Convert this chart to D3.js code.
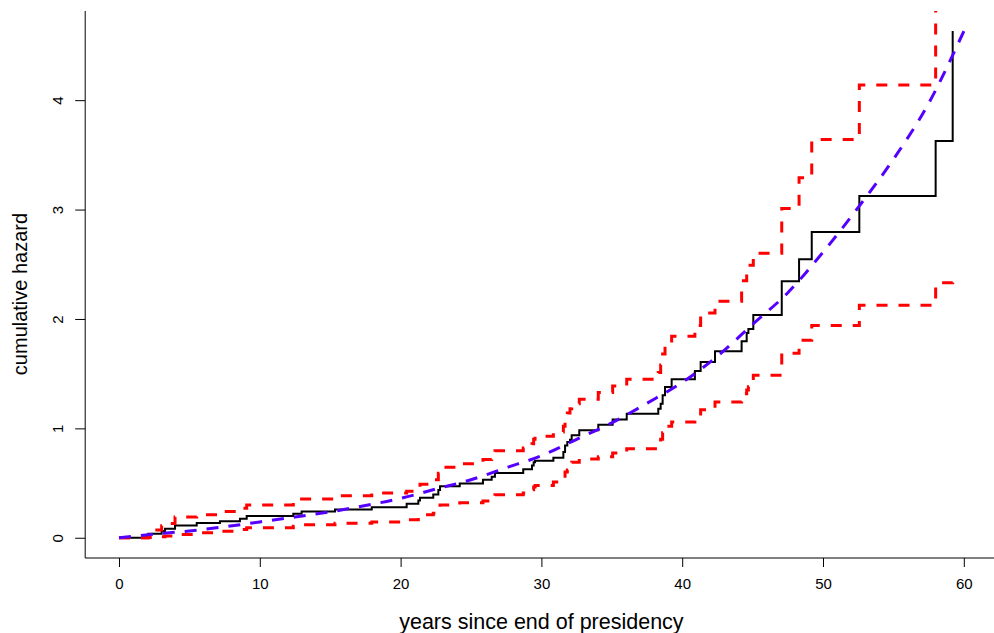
<!DOCTYPE html>
<html>
<head>
<meta charset="utf-8">
<script src="https://cdn.jsdelivr.net/npm/d3@7"></script>
<style>
  body { margin: 0; background: #fff; }
  svg { display: block; }
  text { font-family: "Liberation Sans", Arial, sans-serif; fill: #000; }
</style>
</head>
<body>
<div id="chart"></div>
<script>
// years since end of presidency at which the estimate steps
const times = [0, 2.08, 3.03, 3.27, 3.98, 5.52, 7.17, 8.59, 9.07, 12.38,
  12.97, 15.34, 17.95, 20.43, 21.26, 21.38, 22.32, 22.68, 22.8, 24.2,
  25.85, 26.47, 26.7, 28.71, 29.33, 29.45, 29.55, 30.85, 31.56, 31.68,
  31.84, 32.03, 32.15, 32.69, 34.04, 35.06, 36.06, 38.3, 38.47, 38.61,
  38.78, 39.25, 40.9, 41.31, 42.33, 44.22, 44.58, 44.7, 45.05, 47.07,
  48.3, 49.2, 52.58, 58.0, 59.21]

// Nelson-Aalen cumulative hazard
const cumHaz = [0, 0.037, 0.061, 0.082, 0.113, 0.134, 0.152, 0.174, 0.198, 0.22,
  0.24, 0.259, 0.28, 0.311, 0.34, 0.366, 0.395, 0.437, 0.47, 0.497,
  0.53, 0.558, 0.593, 0.627, 0.66, 0.69, 0.705, 0.732, 0.783, 0.844,
  0.875, 0.896, 0.936, 0.982, 1.034, 1.08, 1.134, 1.18, 1.226, 1.302,
  1.378, 1.448, 1.524, 1.607, 1.704, 1.796, 1.872, 1.909, 2.036, 2.345,
  2.546, 2.796, 3.125, 3.626, 4.632]

// confidence band
const upper = [0, 0.07, 0.11, 0.13, 0.19, 0.21, 0.24, 0.27, 0.30, 0.33,
  0.355, 0.385, 0.41, 0.425, 0.46, 0.49, 0.53, 0.59, 0.645, 0.677,
  0.715, 0.75, 0.795, 0.82, 0.86, 0.9, 0.927, 0.966, 1.02, 1.1,
  1.14, 1.18, 1.226, 1.265, 1.327, 1.387, 1.448, 1.51, 1.58, 1.68,
  1.77, 1.842, 1.94, 2.055, 2.162, 2.35, 2.44, 2.49, 2.6, 3.01,
  3.29, 3.641, 4.138, 5.6, 7.5]

const lower = [0, 0.002, 0.01, 0.015, 0.03, 0.045, 0.06, 0.075, 0.092, 0.105,
  0.118, 0.132, 0.145, 0.165, 0.19, 0.21, 0.225, 0.26, 0.30, 0.32,
  0.335, 0.36, 0.393, 0.41, 0.44, 0.465, 0.478, 0.51, 0.54, 0.6,
  0.62, 0.66, 0.69, 0.72, 0.74, 0.774, 0.814, 0.85, 0.9, 0.96,
  1.02, 1.058, 1.103, 1.17, 1.24, 1.317, 1.35, 1.38, 1.485, 1.686,
  1.805, 1.94, 2.125, 2.33, 2.42]

// fitted parametric cumulative hazard
const fitTimes = [0, 2.5, 5, 7.5, 10, 12.5, 15, 17.5, 20, 22.5, 25, 27.5, 30,
  32.5, 35, 37.5, 40, 42.5, 45, 47.5, 50, 52.5, 55, 57.5, 60]
const fitHaz = [0, 0.033, 0.062, 0.1, 0.145, 0.19, 0.237, 0.295, 0.36, 0.445,
  0.53, 0.64, 0.75, 0.9, 1.05, 1.23, 1.42, 1.66, 1.95, 2.24,
  2.61, 3.02, 3.46, 3.97, 4.63]

const xTicks = [0, 10, 20, 30, 40, 50, 60]
const yTicks = [0, 1, 2, 3, 4]

const width = 994
const height = 633

const x = d3.scaleLinear().domain([-2.4, 62.4]).range([85.2, 997.6])
const y = d3.scaleLinear().domain([-0.185, 4.815]).range([558, 11])

const svg = d3
  .select('#chart')
  .append('svg')
  .attr('width', width)
  .attr('height', height)

svg
  .append('clipPath')
  .attr('id', 'plot-area')
  .append('rect')
  .attr('x', x(-2.4))
  .attr('y', y(4.815))
  .attr('width', x(62.4) - x(-2.4))
  .attr('height', y(-0.185) - y(4.815))

const stepLine = d3
  .line()
  .x(d => x(d[0]))
  .y(d => y(d[1]))
  .curve(d3.curveStepAfter)

const smoothLine = d3
  .line()
  .x(d => x(d[0]))
  .y(d => y(d[1]))
  .curve(d3.curveMonotoneX)

const plot = svg.append('g').attr('clip-path', 'url(#plot-area)')

plot
  .append('path')
  .datum(d3.zip(times, cumHaz))
  .attr('d', stepLine)
  .attr('fill', 'none')
  .attr('stroke', '#000')
  .attr('stroke-width', 2)

plot
  .selectAll('.band')
  .data([upper, lower])
  .enter()
  .append('path')
  .classed('band', true)
  .attr('d', d => stepLine(d3.zip(times, d)))
  .attr('fill', 'none')
  .attr('stroke', '#ff0000')
  .attr('stroke-width', 3)
  .attr('stroke-dasharray', '11,11')

plot
  .append('path')
  .datum(d3.zip(fitTimes, fitHaz))
  .attr('d', smoothLine)
  .attr('fill', 'none')
  .attr('stroke', '#5500ff')
  .attr('stroke-width', 3)
  .attr('stroke-dasharray', '12,10')

// L-shaped frame
svg
  .append('path')
  .attr('d', `M${x(-2.4)},${y(4.815)}V${y(-0.185)}H${width}`)
  .attr('fill', 'none')
  .attr('stroke', '#000')
  .attr('stroke-width', 1)

const xAxis = svg
  .append('g')
  .attr('transform', `translate(0, ${y(-0.185)})`)
  .call(d3.axisBottom(x).tickValues(xTicks).tickSize(9).tickPadding(11))
xAxis.select('.domain').remove()
xAxis.selectAll('text').style('font-size', '15px').style('font-family', null)

const yAxis = svg
  .append('g')
  .attr('transform', `translate(${x(-2.4)}, 0)`)
  .call(d3.axisLeft(y).tickValues(yTicks).tickSize(10).tickFormat(d3.format('d')))
yAxis.select('.domain').remove()
yAxis
  .selectAll('text')
  .style('font-size', '15px')
  .style('font-family', null)
  .attr('x', null)
  .attr('dy', null)
  .attr('text-anchor', 'middle')
  .attr('transform', 'translate(-22, 0) rotate(-90)')

svg
  .append('text')
  .attr('x', x(30))
  .attr('y', 629)
  .attr('text-anchor', 'middle')
  .style('font-size', '21.5px')
  .text('years since end of presidency')

svg
  .append('text')
  .attr('transform', `translate(27, 294) rotate(-90)`)
  .attr('text-anchor', 'middle')
  .style('font-size', '20px')
  .text('cumulative hazard')
</script>
</body>
</html>
